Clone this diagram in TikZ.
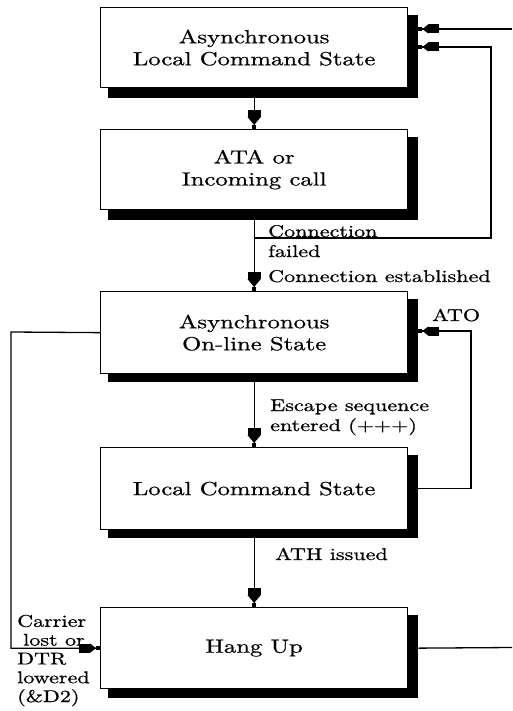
\documentclass[tikz,border=0pt]{standalone}
\usepackage{fontspec}
\setmainfont{lmroman10-regular.otf}[FakeStretch=1.3,FakeBold=0.7]
\usetikzlibrary{arrows.meta}
\begin{document}
\begin{tikzpicture}[x=1pt,y=-1pt,
  shadowbox/.style={fill=black, draw=none, inner sep=0pt, anchor=north west,
    minimum width=310pt, minimum height=83pt},
  statebox/.style={draw=black, line width=1.3pt, fill=white, inner sep=0pt,
    anchor=north west, minimum width=307pt, align=center,
    font=\fontsize{19}{22}\selectfont},
  lab/.style={inner sep=0pt, anchor=base west, align=left,
    font=\fontsize{17}{20}\selectfont},
  conn/.style={line width=1.3pt},
  varr/.style={conn, -{Rectangle[length=7pt,width=13pt]Triangle[length=8pt,width=13pt]Rectangle[length=4pt,width=4.5pt]}},
  harr/.style={conn, -{Rectangle[length=11pt,width=9pt]Triangle[length=6pt,width=9pt]Rectangle[length=4pt,width=3.5pt]}}
]
\fill[white] (0,0) rectangle (512,711);
\useasboundingbox (0,0) rectangle (512,711);

% shadows
\node[shadowbox] (s1) at (108,15) {};
\node[shadowbox] (s2) at (108,137) {};
\node[shadowbox] (s3) at (108,299) {};
\node[shadowbox] (s4) at (108,455) {};
\node[shadowbox] (s5) at (108,615) {};

% state boxes
\node[statebox, minimum height=80pt] (b1) at (100,7) {Asynchronous\\Local Command State};
\node[statebox, minimum height=80pt] (b2) at (100,129) {ATA or\\Incoming call};
\node[statebox, minimum height=82pt] (b3) at (100,291) {Asynchronous\\On-line State};
\node[statebox, minimum height=82pt] (b4) at (100,447) {Local Command State};
\node[statebox, minimum height=81pt] (b5) at (100,607) {Hang Up};

% coordinates
\coordinate (cf) at (253.5,238);
\coordinate (r1) at (491,47);
\coordinate (r2) at (471,331);
\coordinate (l1) at (11,332);
\coordinate (eTop) at (512,29);
\coordinate (eBot) at (512,647.5);

% vertical flow
\draw[varr] (b1.south) -- (b2.north);
\draw[varr] (b2.south) -- (b3.north);
\draw[varr] (b3.south) -- (b4.north);
\draw[varr] (b4.south) -- (b5.north);

% connection failed loop
\draw[harr] (cf) -| (r1) -- (s1.east |- r1);
% incoming from right edge
\draw[harr] (eTop) -- (s1.east |- eTop);
% hang up out to the right
\draw[conn] (s5.east |- b5.east) -- (eBot);
% ATO loop
\draw[harr] (s4.east |- b4.east) -| (r2) -- (s3.east |- r2);
% carrier lost loop
\draw[harr] (b3.west) -- (l1) -- (l1 |- b5.west) -- (b5.west);

% labels (base anchor = last line)
\node[lab] (lcf) at (268,257) {Connection\\failed};
\node[lab] (lce) at (268,282) {Connection established};
\node[lab] (lesc) at (270,431) {Escape sequence\\entered (+++)};
\node[lab] (lato) at (432,321) {ATO};
\node[lab] (lath) at (275,560) {ATH issued};
\node[lab, font=\fontsize{17}{18.8}\selectfont] (lcar) at (17,702) {Carrier\\\hspace*{6pt}lost or\\DTR\\lowered\\(\&D2)};
\end{tikzpicture}
\end{document}
